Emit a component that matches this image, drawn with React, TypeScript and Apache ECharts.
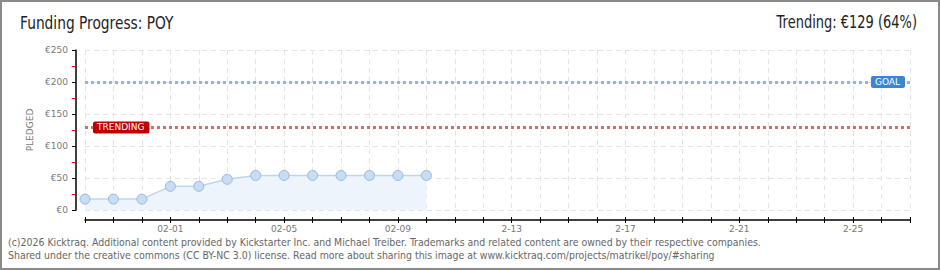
import React, { useEffect, useRef } from "react";
import * as echarts from "echarts";

const categories = [
  "01-29", "01-30", "01-31", "02-01", "02-02", "02-03", "02-04", "02-05", "02-06", "02-07",
  "02-08", "02-09", "02-10", "02-11", "02-12", "02-13", "02-14", "02-15", "02-16", "02-17",
  "02-18", "02-19", "02-20", "02-21", "02-22", "02-23", "02-24", "02-25", "02-26", "02-27",
];
const pledged = [17, 17, 17, 37, 37, 48, 54, 54, 54, 54, 54, 54, 54];
const goalValue = 200;
const trendingValue = 129;
const tickLabels: Record<string, string> = {
  "02-01": "02-01", "02-05": "02-05", "02-09": "02-09",
  "02-13": "2-13", "02-17": "2-17", "02-21": "2-21", "02-25": "2-25",
};
const titleText = "Funding Progress: POY";
const trendText = "Trending: €129 (64%)";
const footer1 = "(c)2026 Kicktraq. Additional content provided by Kickstarter Inc. and Michael Treiber. Trademarks and related content are owned by their respective companies.";
const footer2 = "Shared under the creative commons (CC BY-NC 3.0) license. Read more about sharing this image at www.kicktraq.com/projects/matrikel/poy/#sharing";

const SANS = "'DejaVu Sans', sans-serif";
const COND = "'DejaVu Sans Condensed', 'DejaVu Sans', sans-serif";

export default function App() {
  const ref = useRef<HTMLDivElement>(null);
  useEffect(() => {
    document.body.style.margin = "0";
    const chart = echarts.init(ref.current!, null, { renderer: "svg" });
    const xBase = {
      type: "category" as const,
      data: categories,
      boundaryGap: false,
      offset: 10,
      position: "bottom" as const,
    };
    chart.setOption({
      animation: false,
      backgroundColor: "#ffffff",
      grid: { left: 85, right: 30, top: 50, bottom: 60 },
      xAxis: [
        {
          ...xBase,
          axisLine: { show: true, onZero: false, lineStyle: { color: "#000", width: 1.5 } },
          axisTick: { show: true, interval: 0, length: 3, lineStyle: { color: "#000" } },
          axisLabel: {
            interval: (i: number) => (i - 3) % 4 === 0,
            formatter: (v: string) => tickLabels[v] ?? v,
            color: "#777",
            fontSize: 9,
            margin: 4,
            fontFamily: SANS,
          },
          splitLine: { show: true, interval: 0, lineStyle: { color: "#e4e4e4", type: [5, 4] } },
        },
        {
          ...xBase,
          axisLine: { show: false, onZero: false },
          axisTick: { show: true, inside: true, interval: 0, length: 3, lineStyle: { color: "#000" } },
          axisLabel: { show: false },
          splitLine: { show: false },
        },
      ],
      yAxis: {
        type: "value",
        min: 0,
        max: 250,
        interval: 50,
        offset: 9,
        name: "PLEDGED",
        nameLocation: "middle",
        nameGap: 38,
        nameTextStyle: { color: "#777", fontSize: 9, fontFamily: SANS },
        axisLine: { show: true, lineStyle: { color: "#000", width: 1.5 } },
        axisTick: { show: true, length: 4, lineStyle: { color: "#000" } },
        minorTick: { show: true, splitNumber: 2, length: 4, lineStyle: { color: "#e00000" } },
        axisLabel: { formatter: (v: number) => "€" + v, color: "#777", fontSize: 9, margin: 8, fontFamily: SANS },
        splitLine: { show: true, lineStyle: { color: "#e4e4e4", type: [5, 4] } },
      },
      series: [
        {
          type: "line",
          xAxisIndex: 0,
          data: pledged,
          symbol: "circle",
          symbolSize: 10,
          itemStyle: { color: "#c6ddf6", borderColor: "#9fb7d2", borderWidth: 1 },
          lineStyle: { color: "#bcd6f1", width: 1.5 },
          areaStyle: { color: "#edf4fc", opacity: 1 },
          markLine: {
            silent: true,
            symbol: "none",
            data: [
              {
                yAxis: goalValue,
                lineStyle: { color: "#8fb5e0", width: 3, type: [3, 3] },
                label: {
                  show: true, position: "insideEnd", distance: 5, formatter: "GOAL",
                  color: "#fff", backgroundColor: "#3a86d6", padding: [2, 5, 1, 4], borderRadius: 2,
                  fontSize: 9, fontFamily: SANS,
                },
              },
              {
                yAxis: trendingValue,
                lineStyle: { color: "#d96a6a", width: 3, type: [3, 3] },
                label: {
                  show: true, position: "insideStart", distance: 8, formatter: "TRENDING",
                  color: "#fff", backgroundColor: "#c00000", padding: [2, 5, 1, 4], borderRadius: 2,
                  fontSize: 9, fontFamily: SANS,
                },
              },
            ],
          },
        },
      ],
      graphic: [
        { type: "rect", shape: { x: 1, y: 1, width: 938, height: 268 }, style: { fill: "none", stroke: "#8a8a8a", lineWidth: 2 }, silent: true },
        { type: "text", x: 20, y: 14, scaleX: 0.765, style: { text: titleText, fontSize: 18, fill: "#222", fontFamily: SANS } },
        { type: "text", x: 917, y: 14, scaleX: 0.765, style: { text: trendText, fontSize: 17, fill: "#222", fontFamily: SANS, align: "right" } },
        { type: "text", x: 8, y: 237, scaleX: 0.95, style: { text: footer1, fontSize: 11, fill: "#666", fontFamily: COND } },
        { type: "text", x: 8, y: 250, scaleX: 0.95, style: { text: footer2, fontSize: 11, fill: "#666", fontFamily: COND } },
      ],
    });
    return () => chart.dispose();
  }, []);
  return (
    <div style={{ position: "fixed", left: 0, top: 0, width: 940, height: 270 }}>
      <div ref={ref} style={{ width: 940, height: 270 }} />
    </div>
  );
}
